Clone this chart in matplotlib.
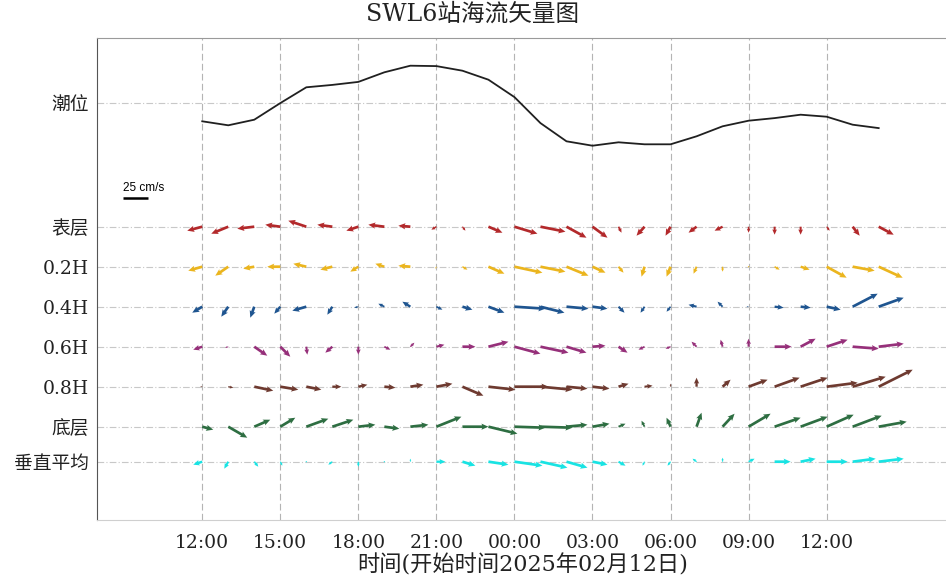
import numpy as np
import matplotlib
matplotlib.use("Agg")
import matplotlib.pyplot as plt

# ============================================================
# Data (hours since 2025-02-12 00:00, currents in cm/s, tide in m)
# ============================================================
hours = list(range(12, 39))

tide = [-0.93, -1.13, -0.85, -0.02, 0.77, 0.89, 1.04, 1.52, 1.85, 1.83,
        1.60, 1.15, 0.28, -1.02, -1.93, -2.15, -1.98, -2.08, -2.08, -1.68,
        -1.18, -0.90, -0.77, -0.60, -0.70, -1.10, -1.27]

surf_u = [-15, -17, -17, -15, -18, -15, -12, -16, -12, -5, 3, 14, 23, 25,
          20, 15, 3, -8, -5, -8, -8, 0, 0, 0, 3, 7, 15]
surf_v = [-4, -7, -2, 2, 6, 2, -4, 2, 1, -3, -4, -6, -7, -5,
          -11, -11, -6, -9, -9, -6, -4, -6, -8, -8, -4, -9, -8]

h02_u = [-14, -13, -11, -13, -13, -12, -8, -9, -12, -1, 5, 16, 28, 25,
         22, 13, 5, -3, -4, -3, 0, 0, 5, 9, 20, 22, 24]
h02_v = [-4, -9, -2, 0, 3, -3, -5, 3, 1, -2, -3, -7, -6, -5,
         -9, -6, -6, -10, -10, -7, -5, -1, -3, -3, -11, -4, -11]

h04_u = [-10, -7, -4, -6, -14, -5, -4, -6, -8, 6, 10, 16, 31, 24,
         22, 15, 6, -4, -4, -8, -5, -2, 9, 10, 14, 25, 25]
h04_v = [-6, -10, -11, -7, -4, -8, -1, 3, 5, -3, -3, -6, -2, -6,
         -2, -2, -6, -6, -5, 2, 5, 0, -1, -1, -3, 13, 9]

h06_u = [-9, -3, 13, 10, 1, -7, 0, 6, 4, 8, 13, 20, 26, 28,
         20, 13, 9, -6, -5, -5, -2, 0, 17, 15, 21, 26, 25]
h06_v = [-3, -1, -9, -10, -8, -6, -8, -3, 4, 2, 0, 5, -7, -6,
         -6, 1, -6, -3, -2, 5, 7, 8, 0, 8, 7, -2, 3]

h08_u = [-2, 5, 19, 18, 15, 9, 9, 11, 13, 16, 21, 27, 34, 32,
         21, 17, 10, 8, 0, 0, 8, 19, 25, 27, 31, 33, 34]
h08_v = [0, -1, -4, -3, -3, 0, 2, -1, 2, 3, -9, -3, 0, -3,
         -2, -2, 3, 1, 3, 9, 7, 7, 9, 9, 4, 10, 17]

bot_u = [11, 19, 16, 15, 22, 21, 17, 15, 18, 25, 26, 29, 31, 32,
         21, 17, 7, -3, -4, 5, 12, 22, 26, 27, 27, 29, 28]
bot_v = [-3, -11, 7, 9, 8, 7, 2, -2, 2, 10, 0, -7, -1, -1,
         2, 3, 3, 6, 9, 14, 13, 13, 9, 10, 12, 11, 5]

avg_u = [-9, -4, 4, 2, 0, -4, 0, 0, 0, 9, 13, 20, 28, 27,
         21, 15, 7, -2, -3, -4, 0, 6, 16, 15, 21, 23, 25]
avg_v = [-3, -7, -5, -4, -1, -3, -5, -1, 3, 0, -4, -3, -4, -6,
         -6, -3, -4, -4, -4, 3, 4, 3, 0, 3, 0, 3, 3]

row_labels = ["潮位", "表层", "0.2H", "0.4H", "0.6H", "0.8H", "底层", "垂直平均"]
tick_hours = [12, 15, 18, 21, 24, 27, 30, 33, 36]

# ============================================================
# Layout / style
# ============================================================
ROW_Y = [417.3, 293.3, 253.3, 213.3, 173.3, 133.3, 93.3, 58.3]
TIDE_SCALE = 20.0          # px per metre
QSCALE = 100.0             # cm/s per inch -> 1 cm/s = 1 px at dpi 100
REF_SPEED = 25

COLORS = ["#B3292B", "#EBB51E", "#1F5590", "#96307A", "#6E3A30",
          "#2E6E42", "#19E3E3"]

plt.rcParams["font.family"] = ["DejaVu Serif", "Noto Sans CJK SC"]

fig = plt.figure(figsize=(9.46, 5.80), dpi=100)
ax = fig.add_axes([97 / 946, 1 - 520 / 580, 1 - 97 / 946 + 0.002, 482 / 580])
ax.set_xlim(7.955, 40.66)
ax.set_ylim(0, 482)

# grid
for h in tick_hours:
    ax.axvline(h, color="#b4b4b4", lw=0.8, ls=(0, (6, 3)), zorder=0)
for y in ROW_Y:
    ax.axhline(y, color="#c8c8c8", lw=0.8, ls=(0, (6, 2, 1, 2)), zorder=0)

# tide
t = np.asarray(hours, dtype=float)
ax.plot(t, ROW_Y[0] + np.asarray(tide) * TIDE_SCALE, color="#202020", lw=1.3)

# current vectors
layers = [(surf_u, surf_v), (h02_u, h02_v), (h04_u, h04_v), (h06_u, h06_v),
          (h08_u, h08_v), (bot_u, bot_v), (avg_u, avg_v)]
for i, (u, v) in enumerate(layers):
    ax.quiver(t, np.full(len(t), ROW_Y[i + 1]), u, v,
              color=COLORS[i], angles="uv", scale_units="inches", scale=QSCALE,
              units="dots", width=2.7, headwidth=2.3, headlength=2.6,
              headaxislength=2.3, minshaft=1.5, minlength=0.5,
              pivot="tail", zorder=3)

# scale key
ax_w_in = fig.get_figwidth() * ax.get_position().width
x0 = (123 - 97) / 849
y0 = (520 - 198) / 482
ax.plot([x0, x0 + (REF_SPEED / QSCALE) / ax_w_in], [y0, y0], transform=ax.transAxes,
        color="black", lw=1.8, solid_capstyle="butt")
ax.text(x0, y0 + 0.008, f"{REF_SPEED} cm/s", transform=ax.transAxes,
        fontsize=8.5, family="Liberation Sans", ha="left", va="bottom")

# axes cosmetics
ax.set_xticks(tick_hours)
ax.set_xticklabels([f"{h % 24:02d}:00" for h in tick_hours])
ax.set_yticks(ROW_Y)
ax.set_yticklabels(row_labels)
ax.tick_params(axis="both", length=0, labelsize=13.5, colors="#222222")
ax.tick_params(axis="x", pad=10)
ax.tick_params(axis="y", pad=6)
ax.spines["right"].set_visible(False)
ax.spines["top"].set_color("#9a9a9a")
ax.spines["left"].set_color("#555555")
ax.spines["bottom"].set_color("#cfcfcf")

ax.set_xlabel("时间(开始时间2025年02月12日)", fontsize=16, labelpad=2, color="#222222")
fig.suptitle("SWL6站海流矢量图", fontsize=17, y=0.995, color="#222222")

fig.savefig("out.png", dpi=100)
